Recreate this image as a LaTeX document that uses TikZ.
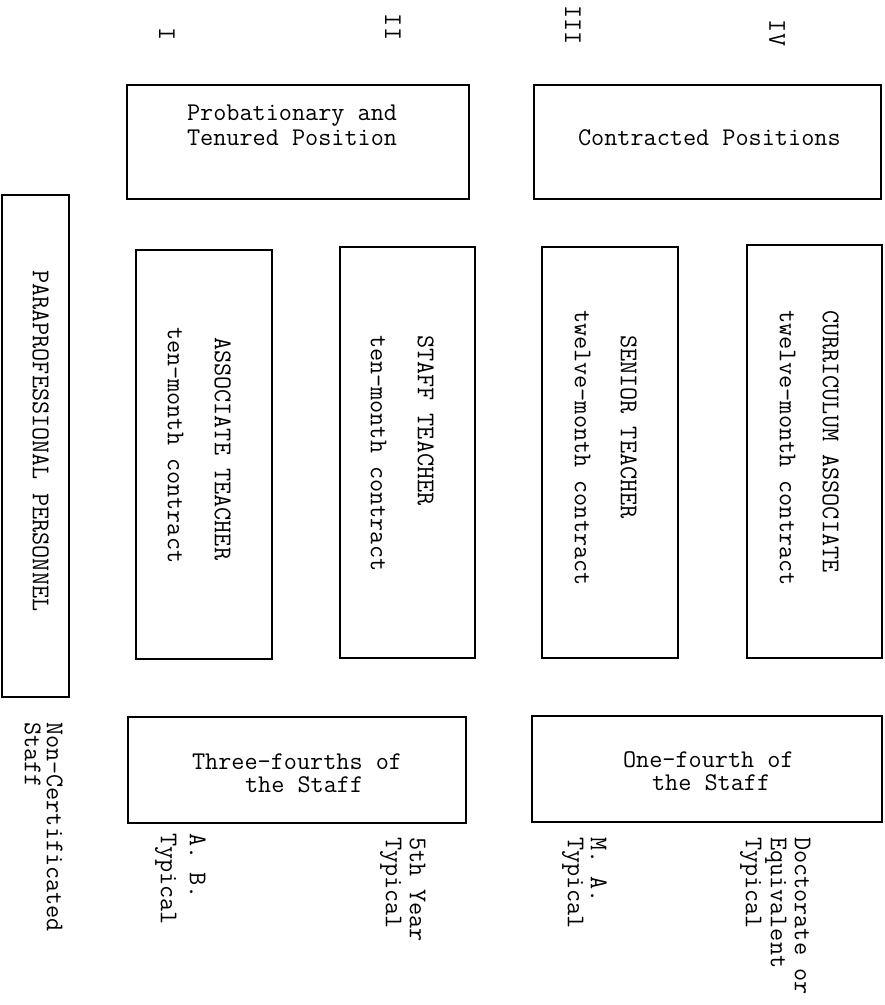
\documentclass[tikz,border=0pt]{standalone}
\usepackage{fontspec}
\tikzset{
  tw/.style={font=\ttfamily\fontsize{25.5}{25}\selectfont, inner sep=0pt, outer sep=0pt},
  vt/.style={tw, rotate=-90, anchor=mid west},
  ht/.style={tw, anchor=mid west},
  num/.style={tw, rotate=-90, anchor=center},
  bx/.style={draw, line width=1.3pt, rectangle, inner sep=0pt, outer sep=0pt, anchor=north west},
}
\newcommand\bxnode[5]{\node[bx, minimum width={(#4-#2)*1pt}, minimum height={(#5-#3)*1pt}] (#1) at (#2,#3) {};}
\begin{document}
\begin{tikzpicture}[x=1pt,y=-1pt]
\useasboundingbox (0,0) rectangle (885,1005);
% column numerals
\node[num] (n1) at (167,34) {I};
\node[num] (n2) at (393,27) {II};
\node[num] (n3) at (573,25) {III};
\node[num] (n4) at (777,33) {IV};
% boxes
\bxnode{prob}{127}{85}{469}{199}
\bxnode{contr}{534}{85}{881}{199}
\bxnode{para}{2}{195}{69}{697}
\bxnode{assoc}{136}{250}{272}{659}
\bxnode{staff}{340}{247}{475}{658}
\bxnode{senior}{542}{247}{678}{658}
\bxnode{curric}{747}{245}{882}{658}
\bxnode{three}{128}{717}{466}{823}
\bxnode{one}{532}{716}{882}{822}
% top box texts
\node[ht] (prob1) at (187,118) {Probationary and};
\node[ht] (prob2) at (187,143) {Tenured Position};
\node[ht] (contr1) at (578,143) {Contracted Positions};
% vertical texts in boxes
\node[vt] (para1) at (35,270) {PARAPROFESSIONAL PERSONNEL};
\node[vt] (assoc1) at (217,337) {ASSOCIATE TEACHER};
\node[vt] (assoc2) at (170,327) {ten-month contract};
\node[vt] (staff1) at (420,335) {STAFF TEACHER};
\node[vt] (staff2) at (373,335) {ten-month contract};
\node[vt] (senior1) at (623,335) {SENIOR TEACHER};
\node[vt] (senior2) at (577,310) {twelve-month contract};
\node[vt] (curric1) at (825,310) {CURRICULUM ASSOCIATE};
\node[vt] (curric2) at (782,310) {twelve-month contract};
% bottom box texts
\node[ht] (three1) at (192,767) {Three-fourths of};
\node[ht] (three2) at (245,790) {the Staff};
\node[ht] (one1) at (623,765) {One-fourth of};
\node[ht] (one2) at (652,788) {the Staff};
% bottom labels
\node[vt] (nc1) at (49,722) {Non-Certificated};
\node[vt] (nc2) at (27,722) {Staff};
\node[vt] (ab1) at (192,833) {A. B.};
\node[vt] (ab2) at (163,833) {Typical};
\node[vt] (fy1) at (412,837) {5th Year};
\node[vt] (fy2) at (388,837) {Typical};
\node[vt] (ma1) at (593,837) {M. A.};
\node[vt] (ma2) at (570,837) {Typical};
\node[vt] (dr1) at (797,837) {Doctorate or};
\node[vt] (dr2) at (773,837) {Equivalent};
\node[vt] (dr3) at (748,837) {Typical};
\end{tikzpicture}
\end{document}
